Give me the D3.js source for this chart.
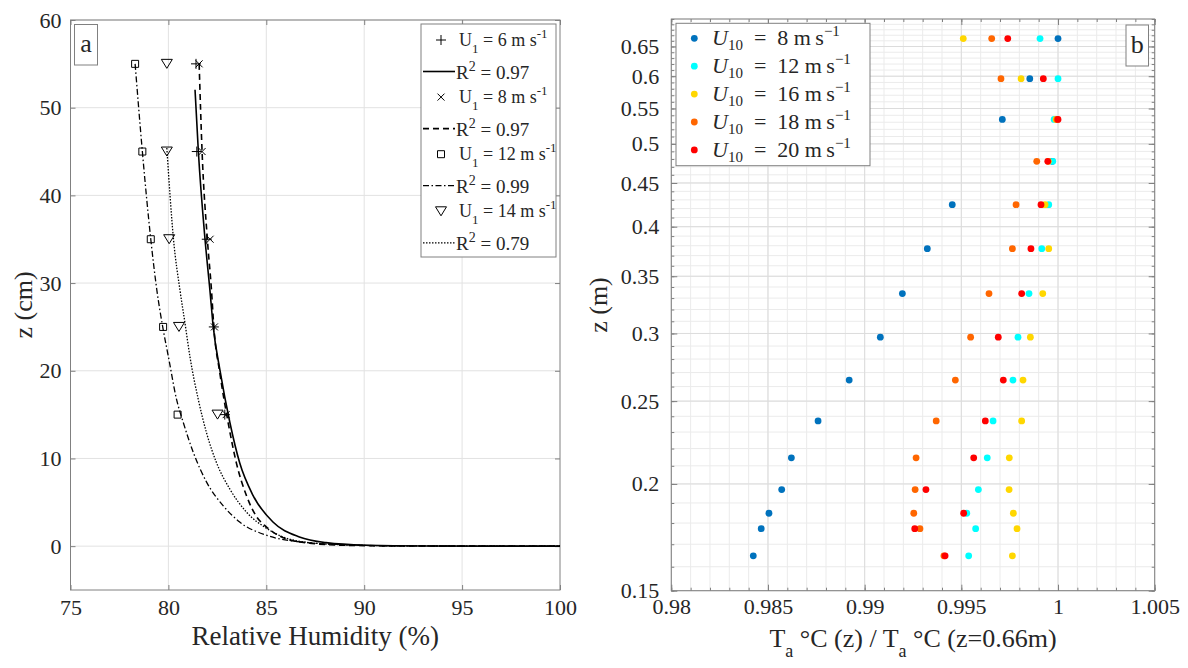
<!DOCTYPE html>
<html>
<head>
<meta charset="utf-8">
<script src="https://cdn.jsdelivr.net/npm/d3@7"></script>
<style>
  body { margin: 0; background: #fff; }
  text { font-family: "Liberation Serif", "Times New Roman", serif; fill: #262626; }
</style>
</head>
<body>
<svg id="chart" width="1188" height="668"></svg>
<script>
// ---------- Panel a: relative humidity profiles ----------
const heightsCm = [55, 45, 35, 25, 15];
const rhU6  = [81.41, 81.45, 81.96, 82.32, 82.88];
const rhU8  = [81.57, 81.72, 82.13, 82.35, 82.95];
const rhU12 = [78.30, 78.67, 79.10, 79.73, 80.47];
const rhU14 = [79.92, 79.92, 80.04, 80.54, 82.51];

// exponential fit curves, [RH %, z cm]
const fitU6 = [[81.36,52.05],[81.53,45],[81.87,35],[82.12,29.2],[82.29,25.0],[82.63,20.1],[83.14,14.1],
  [83.64,9.5],[84.32,5.8],[85.34,2.75],[86.69,1.05],[88.05,0.4],[90.08,0.1],[93,0.01],[100,0]];
const fitU8 = [[81.57,55],[81.72,45],[81.99,35],[82.20,29.2],[82.32,25.0],[82.63,19.7],[83.05,14.1],
  [83.47,9.5],[83.98,5.8],[84.49,3.4],[85.0,2.2],[85.68,1.15],[87.03,0.38],[89,0.1],[93,0.01],[100,0]];
const fitU12 = [[78.30,55],[78.67,45],[79.10,35],[79.41,29.2],[79.71,25.0],[80.0,21.6],[80.42,16.7],
  [80.76,14.1],[81.27,10.7],[81.95,7.3],[82.80,4.6],[83.64,2.75],[85.0,1.25],[86.69,0.49],[88.73,0.19],
  [92,0.03],[100,0]];
const fitU14 = [[79.92,45.4],[80.26,35],[80.59,29.2],[80.85,25.4],[81.10,21.6],[81.53,16.7],[81.95,12.9],
  [82.46,9.5],[83.14,6.5],[83.98,3.9],[85.0,2.05],[85.85,1.05],[87.03,0.45],[89,0.15],[92,0.03],[100,0]];

const speedsA = ["6", "8", "12", "14"];
const r2Values = ["0.97", "0.97", "0.99", "0.79"];
const rhTicks = [75, 80, 85, 90, 95, 100];
const zTicksCm = [0, 10, 20, 30, 40, 50, 60];

// ---------- Panel b: normalised air temperature ----------
const heightsM = [0.664, 0.596, 0.534, 0.477, 0.4245, 0.377, 0.334, 0.297, 0.2646, 0.237, 0.2146, 0.197, 0.1848, 0.1773, 0.1648];
const ratioU8  = [1.0000, 0.99854, 0.99712, 0.99970, 0.99453, 0.99324, 0.99195, 0.99081, 0.98920, 0.98759, 0.98621, 0.98571, 0.98505, 0.98465, 0.98424];
const ratioU12 = [0.99907, 1.0000, 0.99980, 0.99973, 0.99952, 0.99916, 0.99850, 0.99793, 0.99767, 0.99664, 0.99634, 0.99588, 0.99528, 0.99574, 0.99538];
const ratioU16 = [0.99510, 0.99809, 0.99990, 0.99950, 0.99933, 0.99952, 0.99921, 0.99857, 0.99819, 0.99812, 0.99748, 0.99747, 0.99769, 0.99788, 0.99764];
const ratioU18 = [0.99657, 0.99705, 0.99995, 0.99890, 0.99783, 0.99764, 0.99643, 0.99548, 0.99469, 0.99370, 0.99266, 0.99261, 0.99254, 0.99286, 0.99410];
const ratioU20 = [0.99740, 0.99924, 1.00000, 0.99947, 0.99912, 0.99860, 0.99812, 0.99691, 0.99717, 0.99624, 0.99564, 0.99317, 0.99512, 0.99259, 0.99416];
const speedsB = ["8", "12", "16", "18", "20"];
const colorsB = ["#0072BD", "#00FFFF", "#FFD700", "#FF6600", "#FF0000"];
const ratioTicks = [0.98, 0.985, 0.99, 0.995, 1, 1.005];
const zTicksM = [0.15, 0.2, 0.25, 0.3, 0.35, 0.4, 0.45, 0.5, 0.55, 0.6, 0.65];

const svg = d3.select("#chart");
const serif = '"Liberation Serif", "Times New Roman", serif';
const frameColor = "#808080";
const gridColor = "#e2e2e2";
const tickFont = 22;

// ===================== Panel a =====================
const A = { l: 70.5, r: 560, t: 20, b: 590 };
const xa = d3.scaleLinear().domain([75, 100]).range([A.l, A.r]);
const ya = d3.scaleLinear().domain([-5, 60]).range([A.b, A.t]);
const ga = svg.append("g");

// grid
ga.append("g").selectAll("line").data(rhTicks.slice(1, -1)).join("line")
  .attr("x1", d => xa(d)).attr("x2", d => xa(d)).attr("y1", A.t).attr("y2", A.b)
  .attr("stroke", gridColor).attr("stroke-width", 1);
ga.append("g").selectAll("line").data(zTicksCm).join("line")
  .attr("y1", d => ya(d)).attr("y2", d => ya(d)).attr("x1", A.l).attr("x2", A.r)
  .attr("stroke", gridColor).attr("stroke-width", 1);

// axes (ticks point inward)
function styleAxis(g) {
  g.attr("font-family", serif);
  g.select(".domain").remove();
  g.selectAll(".tick line").attr("stroke", frameColor);
  g.selectAll(".tick text").style("font-size", tickFont + "px").style("font-family", serif).attr("fill", "#262626");
}
ga.append("g").attr("transform", `translate(0,${A.b})`)
  .call(d3.axisBottom(xa).tickValues(rhTicks).tickSize(-5).tickPadding(9).tickFormat(d3.format("d")))
  .call(styleAxis);
ga.append("g").attr("transform", `translate(0,${A.t})`)
  .call(d3.axisTop(xa).tickValues(rhTicks).tickSize(-5).tickFormat(""))
  .call(styleAxis);
ga.append("g").attr("transform", `translate(${A.l},0)`)
  .call(d3.axisLeft(ya).tickValues(zTicksCm).tickSize(-5).tickPadding(9).tickFormat(d3.format("d")))
  .call(styleAxis);
ga.append("g").attr("transform", `translate(${A.r},0)`)
  .call(d3.axisRight(ya).tickValues(zTicksCm).tickSize(-5).tickFormat(""))
  .call(styleAxis);
ga.append("rect").attr("x", A.l).attr("y", A.t).attr("width", A.r - A.l).attr("height", A.b - A.t)
  .attr("fill", "none").attr("stroke", frameColor).attr("stroke-width", 1);

// fit curves
const fitLine = d3.line().x(d => xa(d[0])).y(d => ya(d[1])).curve(d3.curveMonotoneX);
const lineStyles = [
  { dash: null, w: 1.6 },
  { dash: "6,4", w: 1.6 },
  { dash: "6,2.5,1.5,2.5", w: 1.3 },
  { dash: "1.5,1.5", w: 1.3 }
];
const fits = [fitU6, fitU8, fitU12, fitU14];
fits.forEach((f, i) => {
  ga.append("path").datum(f).attr("d", fitLine).attr("fill", "none").attr("stroke", "#000")
    .attr("stroke-width", lineStyles[i].w).attr("stroke-dasharray", lineStyles[i].dash);
});

// markers
const markerPaths = [
  "M-5,0H5M0,-5V5",
  "M-3.5,-3.5L3.5,3.5M-3.5,3.5L3.5,-3.5",
  "M-3.5,-3.5H3.5V3.5H-3.5Z",
  "M-5.5,-4.5H5.5L0,4.5Z"
];
const rhSeries = [rhU6, rhU8, rhU12, rhU14];
rhSeries.forEach((s, i) => {
  ga.append("g").selectAll("path").data(s.map((v, k) => [v, heightsCm[k]])).join("path")
    .attr("transform", d => `translate(${xa(d[0])},${ya(d[1])})`)
    .attr("d", markerPaths[i]).attr("fill", "none").attr("stroke", "#000").attr("stroke-width", 1);
});

// legend a
const legA = ga.append("g");
legA.append("rect").attr("x", 421).attr("y", 24).attr("width", 135).attr("height", 233)
  .attr("fill", "#fff").attr("stroke", frameColor);
speedsA.forEach((sp, i) => {
  const yU = 44 + 57.1 * i, yR = 75.5 + 57.1 * i;
  legA.append("path").attr("transform", `translate(441,${yU - 4})`).attr("d", markerPaths[i])
    .attr("fill", "none").attr("stroke", "#000").attr("stroke-width", 1);
  const t1 = legA.append("text").attr("x", 459).attr("y", yU + 2).style("font-size", "18px");
  t1.append("tspan").text("U");
  t1.append("tspan").attr("dy", 7).style("font-size", "13px").text("1");
  t1.append("tspan").attr("dy", -7).text(" = " + sp + " m s");
  t1.append("tspan").attr("dy", -8).style("font-size", "13px").text("-1");
  legA.append("line").attr("x1", 423).attr("x2", 455).attr("y1", yR - 4).attr("y2", yR - 4)
    .attr("stroke", "#000").attr("stroke-width", lineStyles[i].w).attr("stroke-dasharray", lineStyles[i].dash);
  const t2 = legA.append("text").attr("x", 456).attr("y", yR + 3).style("font-size", "19px");
  t2.append("tspan").text("R");
  t2.append("tspan").attr("dy", -8).style("font-size", "14px").text("2");
  t2.append("tspan").attr("dy", 8).text(" = " + r2Values[i]);
});

// panel tag a
ga.append("rect").attr("x", 74.5).attr("y", 24.5).attr("width", 23).attr("height", 40.5)
  .attr("fill", "#fff").attr("stroke", frameColor);
ga.append("text").attr("x", 86).attr("y", 52).attr("text-anchor", "middle").style("font-size", "26px").text("a");

// axis titles a
ga.append("text").attr("x", (A.l + A.r) / 2).attr("y", 645).attr("text-anchor", "middle")
  .style("font-size", "27px").text("Relative Humidity (%)");
ga.append("text").attr("transform", "translate(32,305) rotate(-90)").attr("text-anchor", "middle")
  .style("font-size", "26px").text("z (cm)");

// ===================== Panel b =====================
const B = { l: 671.3, r: 1154.7, t: 19, b: 590.7 };
const xb = d3.scaleLinear().domain([0.98, 1.005]).range([B.l, B.r]);
const yb = d3.scaleLog().domain([0.15, 0.7]).range([B.b, B.t]);
const gb = svg.append("g");

const minorX = d3.range(980, 1006).map(d => d / 1000);
const minorY = d3.range(15, 71).map(d => d / 100);

gb.append("g").selectAll("line").data(minorX).join("line")
  .attr("x1", d => xb(d)).attr("x2", d => xb(d)).attr("y1", B.t).attr("y2", B.b)
  .attr("stroke", "#ebebeb").attr("stroke-width", 1);
gb.append("g").selectAll("line").data(minorY).join("line")
  .attr("y1", d => yb(d)).attr("y2", d => yb(d)).attr("x1", B.l).attr("x2", B.r)
  .attr("stroke", "#ebebeb").attr("stroke-width", 1);
gb.append("g").selectAll("line").data(ratioTicks).join("line")
  .attr("x1", d => xb(d)).attr("x2", d => xb(d)).attr("y1", B.t).attr("y2", B.b)
  .attr("stroke", "#dcdcdc").attr("stroke-width", 1);
gb.append("g").selectAll("line").data(zTicksM).join("line")
  .attr("y1", d => yb(d)).attr("y2", d => yb(d)).attr("x1", B.l).attr("x2", B.r)
  .attr("stroke", "#dcdcdc").attr("stroke-width", 1);

// minor ticks on all four sides
[["bottom", B.b], ["top", B.t]].forEach(([side, y0]) => {
  const ax = side === "bottom" ? d3.axisBottom(xb) : d3.axisTop(xb);
  gb.append("g").attr("transform", `translate(0,${y0})`)
    .call(ax.tickValues(minorX).tickSize(-3).tickFormat("")).call(styleAxis);
});
[["left", B.l], ["right", B.r]].forEach(([side, x0]) => {
  const ax = side === "left" ? d3.axisLeft(yb) : d3.axisRight(yb);
  gb.append("g").attr("transform", `translate(${x0},0)`)
    .call(ax.tickValues(minorY).tickSize(-3).tickFormat("")).call(styleAxis);
});
// major ticks and labels
gb.append("g").attr("transform", `translate(0,${B.b})`)
  .call(d3.axisBottom(xb).tickValues(ratioTicks).tickSize(-6).tickPadding(8).tickFormat(d => String(d)))
  .call(styleAxis);
gb.append("g").attr("transform", `translate(0,${B.t})`)
  .call(d3.axisTop(xb).tickValues(ratioTicks).tickSize(-6).tickFormat("")).call(styleAxis);
gb.append("g").attr("transform", `translate(${B.l},0)`)
  .call(d3.axisLeft(yb).tickValues(zTicksM).tickSize(-6).tickPadding(12).tickFormat(d => String(d)))
  .call(styleAxis);
gb.append("g").attr("transform", `translate(${B.r},0)`)
  .call(d3.axisRight(yb).tickValues(zTicksM).tickSize(-6).tickFormat("")).call(styleAxis);
gb.append("rect").attr("x", B.l).attr("y", B.t).attr("width", B.r - B.l).attr("height", B.b - B.t)
  .attr("fill", "none").attr("stroke", frameColor).attr("stroke-width", 1);

// scatter points
const ratioSeries = [ratioU8, ratioU12, ratioU16, ratioU18, ratioU20];
ratioSeries.forEach((s, i) => {
  gb.append("g").selectAll("circle").data(s.map((v, k) => [v, heightsM[k]])).join("circle")
    .attr("cx", d => xb(d[0])).attr("cy", d => yb(d[1])).attr("r", 3.4).attr("fill", colorsB[i]);
});

// legend b
const legB = gb.append("g");
legB.append("rect").attr("x", 676).attr("y", 23.3).attr("width", 194).attr("height", 142.4)
  .attr("fill", "#fff").attr("stroke", frameColor);
speedsB.forEach((sp, i) => {
  const yc = 38.3 + 27.9 * i;
  legB.append("circle").attr("cx", 694.3).attr("cy", yc).attr("r", 3.4).attr("fill", colorsB[i]);
  const t = legB.append("text").attr("x", 712).attr("y", yc + 7).style("font-size", "22px");
  t.append("tspan").style("font-style", "italic").text("U");
  t.append("tspan").attr("dy", 5).style("font-size", "15px").text("10");
  t.append("tspan").attr("dy", -5).text("\u2002=\u2002" + sp + " m\u2009s");
  t.append("tspan").attr("dy", -9).style("font-size", "15px").text("\u22121");
});

// panel tag b
gb.append("rect").attr("x", 1126).attr("y", 25).attr("width", 22.5).attr("height", 41)
  .attr("fill", "#fff").attr("stroke", frameColor);
gb.append("text").attr("x", 1137.3).attr("y", 53).attr("text-anchor", "middle").style("font-size", "26px").text("b");

// axis titles b
const xt = gb.append("text").attr("x", (B.l + B.r) / 2).attr("y", 647).attr("text-anchor", "middle")
  .style("font-size", "26px");
xt.append("tspan").text("T");
xt.append("tspan").attr("dy", 10).style("font-size", "18px").text("a");
xt.append("tspan").attr("dy", -10).text(" \u00B0C (z) / T");
xt.append("tspan").attr("dy", 10).style("font-size", "18px").text("a");
xt.append("tspan").attr("dy", -10).text(" \u00B0C (z=0.66m)");
gb.append("text").attr("transform", "translate(607,305) rotate(-90)").attr("text-anchor", "middle")
  .style("font-size", "26px").text("z (m)");
</script>
</body>
</html>
